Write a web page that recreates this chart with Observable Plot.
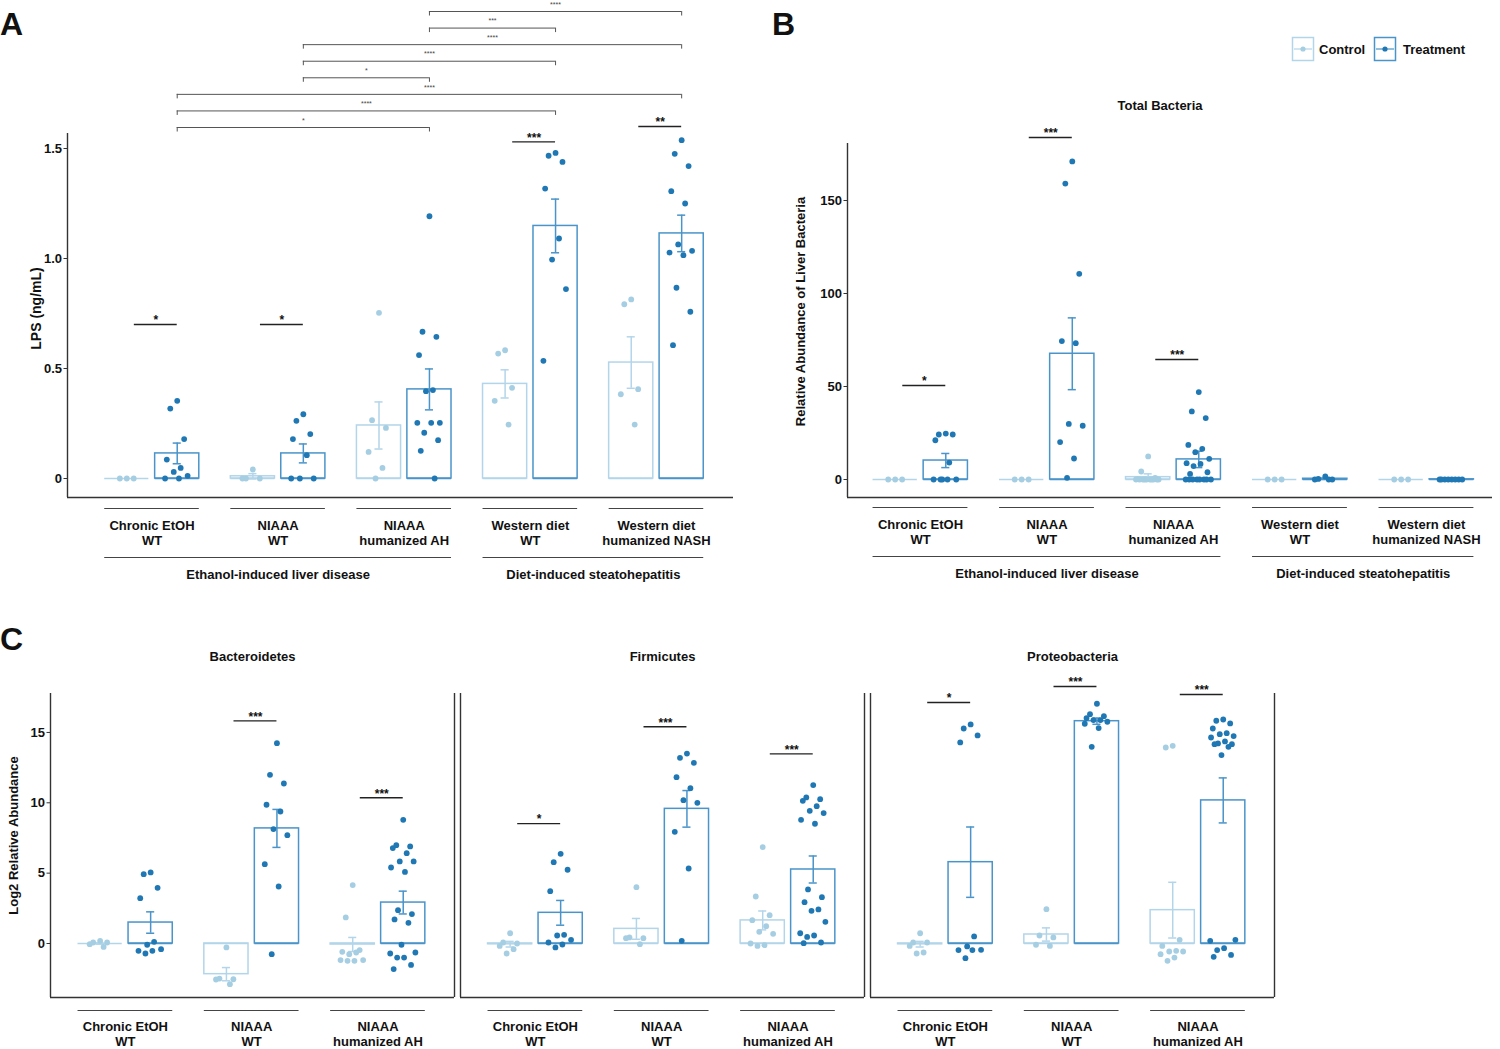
<!DOCTYPE html>
<html>
<head>
<meta charset="utf-8">
<script src="https://cdn.jsdelivr.net/npm/d3@7"></script>
<script src="https://cdn.jsdelivr.net/npm/@observablehq/plot@0.6"></script>
<style>
  html, body { margin: 0; padding: 0; background: #fff; }
  #root { position: relative; width: 1500px; height: 1049px; overflow: hidden; background: #fff;
          font-family: "Liberation Sans", Arial, Helvetica, sans-serif; color: #111; }
  .panel { position: absolute; }
  .panel svg { overflow: visible; }
  .letter { position: absolute; font-size: 32px; font-weight: bold; line-height: 32px; }
</style>
</head>
<body>
<div id="root">
  <div id="panelA" class="panel" style="left:0;top:0"></div>
  <div id="panelB" class="panel" style="left:760px;top:0"></div>
  <div id="panelC" class="panel" style="left:0;top:600px"></div>
  <div class="letter" style="left:0px;top:8px">A</div>
  <div class="letter" style="left:772px;top:8px">B</div>
  <div class="letter" style="left:0px;top:623px">C</div>
  <svg id="legend" style="position:absolute;left:1288px;top:34px" width="200" height="30"
       font-family="Liberation Sans, Arial, sans-serif">
    <g>
      <rect x="4.5" y="3.5" width="21" height="23" fill="none" stroke="#b3d5ea" stroke-width="1.5"></rect>
      <line x1="6" x2="24" y1="15" y2="15" stroke="#b3d5ea" stroke-width="1.2"></line>
      <circle cx="15" cy="15" r="2.6" fill="#a6cee3"></circle>
      <text x="31" y="19.5" font-size="13" font-weight="bold" fill="#111">Control</text>
    </g>
    <g transform="translate(82,0)">
      <rect x="4.5" y="3.5" width="21" height="23" fill="none" stroke="#4a94c9" stroke-width="1.5"></rect>
      <line x1="6" x2="24" y1="15" y2="15" stroke="#4a94c9" stroke-width="1.2"></line>
      <circle cx="15" cy="15" r="2.6" fill="#1f78b4"></circle>
      <text x="33" y="19.5" font-size="13" font-weight="bold" fill="#111">Treatment</text>
    </g>
  </svg>
</div>
<script>
// ======================= DATA =======================
const conditions = ["Control", "Treatment"];
const groupsAB = ["Chronic EtOH\nWT", "NIAAA\nWT", "NIAAA\nhumanized AH", "Western diet\nWT", "Western diet\nhumanized NASH"];
const categoryNames = ["Ethanol-induced liver disease", "Diet-induced steatohepatitis"];
const categoryFrom = [0, 3];
const categoryTo = [2, 4];

// ---- Panel A: LPS (ng/mL) ----
const lpsTitle = "LPS (ng/mL)";
const lpsTicks = [0, 0.5, 1.0, 1.5];
const lpsControl = [
  [0, 0, 0],
  [0.041, 0, 0, 0],
  [0.753, 0.265, 0.230, 0.121, 0.048, 0],
  [0.583, 0.568, 0.412, 0.353, 0.245],
  [0.814, 0.792, 0.406, 0.383, 0.245]
];
const lpsTreatment = [
  [0.353, 0.318, 0.179, 0.086, 0.048, 0.030, 0.012, 0, 0],
  [0.292, 0.262, 0.202, 0.179, 0.106, 0, 0, 0],
  [1.192, 0.667, 0.644, 0.561, 0.402, 0.397, 0.253, 0.253, 0.253, 0.208, 0.174, 0.126, 0],
  [1.480, 1.467, 1.439, 1.318, 1.091, 0.995, 0.861, 0.535],
  [1.538, 1.476, 1.420, 1.306, 1.250, 1.064, 1.035, 1.027, 1.015, 0.867, 0.758, 0.606]
];
const lpsControlMean = [0, 0.010, 0.241, 0.430, 0.527];
const lpsControlSE = [0, 0.012, 0.107, 0.064, 0.117];
const lpsTreatmentMean = [0.114, 0.114, 0.405, 1.148, 1.114];
const lpsTreatmentSE = [0.047, 0.043, 0.093, 0.122, 0.083];
const lpsSigGroup = [0, 1, 3, 4];
const lpsSigLabel = ["*", "*", "***", "**"];
const lpsSigLevel = [0.70, 0.70, 1.53, 1.60];
const lpsCompFrom = [0, 0, 0, 1, 1, 1, 2, 2];
const lpsCompTo = [2, 3, 4, 2, 3, 4, 3, 4];
const lpsCompLabel = ["*", "****", "****", "*", "****", "****", "***", "****"];

// ---- Panel B: Total Bacteria ----
const bactTitle = "Total Bacteria";
const bactAxisTitle = "Relative Abundance of Liver Bacteria";
const bactTicks = [0, 50, 100, 150];
const totalControl = [
  [0, 0, 0],
  [0, 0, 0],
  [12.4, 4.3, 0.8, 0.3, 0, 0, 0, 0, 0, 0, 0, 0, 0, 0],
  [0, 0, 0],
  [0, 0, 0]
];
const totalTreatment = [
  [24.7, 24.2, 24.2, 21.1, 9.1, 0, 0, 0, 0, 0],
  [171.0, 159.1, 110.6, 74.4, 73.3, 29.9, 28.9, 20.1, 11.3, 0.9],
  [47.0, 36.6, 33.0, 18.6, 16.5, 14.7, 11.1, 8.8, 8.4, 7.2, 3.9, 3.0, 0, 0, 0, 0, 0, 0, 0, 0],
  [1.6, 0.3, 0, 0, 0],
  [0, 0, 0, 0, 0, 0, 0, 0]
];
const totalControlMean = [0, 0, 1.25, 0, 0];
const totalControlSE = [0, 0, 1.8, 0, 0];
const totalTreatmentMean = [10.2, 67.6, 10.8, 0.4, 0.1];
const totalTreatmentSE = [3.8, 19.3, 4.4, 0.3, 0];
const totalSigGroup = [0, 1, 2];
const totalSigLabel = ["*", "***", "***"];
const totalSigLevel = [50.5, 183.9, 64.5];

// ---- Panel C: phyla, Log2 relative abundance ----
const phyla = ["Bacteroidetes", "Firmicutes", "Proteobacteria"];
const groupsC = ["Chronic EtOH\nWT", "NIAAA\nWT", "NIAAA\nhumanized AH"];
const phylaAxisTitle = "Log2 Relative Abundance";
const phylaTicks = [0, 5, 10, 15];

const bacteroControl = [
  [0.19, 0.07, 0.07, -0.05, -0.24],
  [-0.28, -2.49, -2.54, -2.56, -2.89],
  [4.15, 1.85, -0.47, -0.59, -0.64, -0.76, -1.18, -1.18, -1.23, -1.23]
];
const bacteroTreatment = [
  [5.05, 4.93, 3.96, 3.22, 0.12, -0.09, -0.40, -0.52, -0.52, -0.71],
  [14.24, 11.99, 11.37, 9.86, 9.38, 8.13, 7.70, 5.64, 4.05, -0.76],
  [8.79, 6.99, 6.90, 6.78, 6.42, 5.83, 5.83, 5.40, 5.09, 2.37, 2.09, 1.71, 1.47, -0.09, -0.64, -0.71, -1.0, -1.0, -1.52, -1.82]
];
const bacteroControlMean = [0, -2.18, -0.07];
const bacteroControlSE = [0.05, 0.47, 0.5];
const bacteroTreatmentMean = [1.49, 8.18, 2.91];
const bacteroTreatmentSE = [0.76, 1.35, 0.81];
const bacteroSigGroup = [1, 2];
const bacteroSigLabel = ["***", "***"];
const bacteroSigLevel = [15.82, 10.36];

const firmiControl = [
  [0.73, 0.07, 0, -0.17, -0.40, -0.71],
  [4.0, 0.43, 0.38, 0.38, -0.05],
  [6.85, 3.34, 2.01, 1.66, 1.23, 0.83, 0.69, 0, -0.12, -0.17]
];
const firmiTreatment = [
  [6.37, 5.78, 5.24, 3.72, 0.62, 0.57, 0.26, 0.07, -0.07, -0.28],
  [13.5, 13.2, 12.84, 11.82, 11.04, 10.19, 10.0, 7.94, 5.33, 0.19],
  [11.26, 10.38, 10.26, 10.14, 9.76, 9.43, 9.27, 8.79, 8.51, 3.84, 3.29, 2.94, 2.42, 2.32, 1.54, 0.73, 0.57, 0.47, 0.07, 0.02]
];
const firmiControlMean = [-0.05, 1.04, 1.64];
const firmiControlSE = [0.2, 0.74, 0.67];
const firmiTreatmentMean = [2.18, 9.57, 5.26];
const firmiTreatmentSE = [0.88, 1.3, 0.96];
const firmiSigGroup = [0, 1, 2];
const firmiSigLabel = ["*", "***", "***"];
const firmiSigLevel = [8.52, 15.4, 13.48];

const proteoControl = [
  [0.73, 0.07, 0.07, -0.17, -0.64, -0.71],
  [2.44, 0.57, 0.43, -0.09, -0.17],
  [14.05, 13.93, 0.26, -0.17, -0.52, -0.57, -0.57, -0.76, -1.0, -1.23]
];
const proteoTreatment = [
  [15.57, 15.28, 14.79, 14.29, 0.5, -0.21, -0.45, -0.47, -0.47, -1.04],
  [17.04, 16.3, 16.16, 16.02, 15.88, 15.88, 15.76, 15.62, 15.31, 13.98],
  [15.92, 15.83, 15.64, 15.28, 14.95, 14.88, 14.74, 14.64, 14.36, 14.22, 14.17, 14.17, 13.98, 13.39, 0.26, 0.19, -0.33, -0.47, -0.81, -0.95]
];
const proteoControlMean = [-0.05, 0.64, 2.37];
const proteoControlSE = [0.2, 0.47, 1.98];
const proteoTreatmentMean = [5.78, 15.8, 10.17];
const proteoTreatmentSE = [2.5, 0.22, 1.6];
const proteoSigGroup = [0, 1, 2];
const proteoSigLabel = ["*", "***", "***"];
const proteoSigLevel = [17.13, 18.27, 17.7];

// ======================= HELPERS =======================
const OFF = 0.2, HALF = 0.175, CAP = 0.032, UNDER = 0.375, JIT = 0.11;
const dotColor = {Control: "#a6cee3", Treatment: "#1f78b4"};
const barColor = {Control: "#b3d5ea", Treatment: "#4a94c9"};
const FONT = "Liberation Sans, Arial, Helvetica, sans-serif";
const xc = d => d.g + (d.cond === "Control" ? -OFF : OFF);
function vdc(n) { let v = 0, f = 0.5; while (n) { if (n & 1) v += f; n >>= 1; f /= 2; } return v; }
const jitter = k => (vdc(k + 1) - 0.5) * 2 * JIT;

function buildPoints(ctrl, trt, p) {
  const out = [];
  [ctrl, trt].forEach((lists, c) => lists.forEach((vals, g) =>
    vals.forEach((v, k) => out.push({p, g, cond: conditions[c], v, k}))));
  return out;
}
function buildBars(cm, cse, tm, tse, p) {
  const out = [];
  [[cm, cse], [tm, tse]].forEach(([m, s], c) =>
    m.forEach((mean, g) => out.push({p, g, cond: conditions[c], mean, se: s[g]})));
  return out;
}
function buildSig(gs, labels, levels, p) {
  return gs.map((g, i) => ({p, g, label: labels[i], y: levels[i]}));
}
// y domain from pixel layout: value 0 at zeroPx, ppu pixels per unit
function yDomain(zeroPx, ppu, topPx, bottomPx) {
  return [(zeroPx - bottomPx) / ppu, (zeroPx - topPx) / ppu];
}

function dataMarks(points, bars, sig, faceted) {
  const o = faceted ? {fx: "p"} : {};
  const withSe = bars.filter(d => d.se > 0);
  const st = d => barColor[d.cond];
  return [
    Plot.rect(bars, {...o, x1: d => xc(d) - HALF, x2: d => xc(d) + HALF, y1: () => 0, y2: "mean",
      fill: "none", stroke: st, strokeWidth: 1.5}),
    Plot.ruleY(bars, {...o, y: () => 0, x1: d => xc(d) - HALF, x2: d => xc(d) + HALF, stroke: st, strokeWidth: 1.5}),
    Plot.ruleX(withSe, {...o, x: xc, y1: d => d.mean - d.se, y2: d => d.mean + d.se, stroke: st, strokeWidth: 1.5}),
    Plot.ruleY(withSe, {...o, y: d => d.mean + d.se, x1: d => xc(d) - CAP, x2: d => xc(d) + CAP, stroke: st, strokeWidth: 1.5}),
    Plot.ruleY(withSe, {...o, y: d => d.mean - d.se, x1: d => xc(d) - CAP, x2: d => xc(d) + CAP, stroke: st, strokeWidth: 1.5}),
    Plot.dot(points, {...o, x: d => xc(d) + jitter(d.k), y: "v", r: 2.9, fill: d => dotColor[d.cond], stroke: null}),
    Plot.ruleY(sig, {...o, y: "y", x1: d => d.g - 0.14, x2: d => d.g + OFF, stroke: "#222", strokeWidth: 1.4}),
    Plot.text(sig, {...o, x: d => d.g + 0.03, y: "y", text: "label", dy: -4, fontSize: 12, fontWeight: "bold", fill: "#111"})
  ];
}

function labelMarks(groupLabels, yMin, dyLine, dyText) {
  const gs = groupLabels.map((label, g) => ({g, label}));
  return [
    Plot.ruleY(gs, {y: () => yMin, x1: d => d.g - UNDER, x2: d => d.g + UNDER, dy: dyLine, stroke: "#444", strokeWidth: 1.1}),
    Plot.text(gs, {x: "g", text: "label", frameAnchor: "bottom", lineAnchor: "middle", textAnchor: "middle",
      dy: dyText, fontSize: 13, fontWeight: "bold", lineHeight: 1.2, fill: "#111"})
  ];
}

function categoryMarks(yMin, dyLine, dyText) {
  const cs = categoryNames.map((name, i) => ({name, from: categoryFrom[i], to: categoryTo[i]}));
  return [
    Plot.ruleY(cs, {y: () => yMin, x1: d => d.from - UNDER, x2: d => d.to + UNDER, dy: dyLine, stroke: "#444", strokeWidth: 1.1}),
    Plot.text(cs, {x: d => (d.from + d.to) / 2, text: "name", frameAnchor: "bottom", lineAnchor: "middle",
      textAnchor: "middle", dy: dyText, fontSize: 13, fontWeight: "bold", fill: "#111"})
  ];
}

function axisMarks(xMin, yMin, yTop, ticks, fmt) {
  return [
    Plot.ruleX([xMin], {x: d => d, y1: () => yMin, y2: () => yTop, stroke: "#333", strokeWidth: 1.4}),
    Plot.ruleY([yMin], {y: d => d, stroke: "#333", strokeWidth: 1.4}),
    Plot.axisY({ticks, tickFormat: fmt, tickSize: 3.5, tickPadding: 2, fontSize: 13, fontWeight: "bold",
      label: null, stroke: "#333", fill: "#111"})
  ];
}

const plotStyle = {fontFamily: FONT, fontWeight: "bold", color: "#111", overflow: "visible", background: "transparent"};

// ======================= PANEL A =======================
{
  const ppu = 220, zero = 478;
  const [yMin, yMax] = yDomain(zero, ppu, 0, 497);
  const yTop = (zero - 133) / ppu;
  const xMin = -0.670, xMax = 4.611;
  const points = buildPoints(lpsControl, lpsTreatment);
  const bars = buildBars(lpsControlMean, lpsControlSE, lpsTreatmentMean, lpsTreatmentSE);
  const sig = buildSig(lpsSigGroup, lpsSigLabel, lpsSigLevel);
  const base = (zero - 127) / ppu, step = 16.57 / ppu, tick = 4.5 / ppu;
  const comps = lpsCompFrom.map((f, i) => ({from: f, to: lpsCompTo[i], label: lpsCompLabel[i], y: base + i * step}));
  const ends = comps.flatMap(d => [{x: d.from, y: d.y}, {x: d.to, y: d.y}]);
  const chart = Plot.plot({
    width: 750, height: 600,
    marginLeft: 67, marginRight: 17, marginTop: 0, marginBottom: 103,
    x: {domain: [xMin, xMax], axis: null},
    y: {domain: [yMin, yMax]},
    color: {type: "identity"},
    style: plotStyle,
    marks: [
      ...axisMarks(xMin, yMin, yTop, lpsTicks, d => d === 0 ? "0" : d.toFixed(1)),
      Plot.text([lpsTitle], {frameAnchor: "left", y: () => (yMin + yTop) / 2, text: d => d, rotate: -90,
        textAnchor: "middle", dx: -31, dy: -7, fontSize: 14, fontWeight: "bold", fill: "#111"}),
      ...dataMarks(points, bars, sig, false),
      Plot.ruleY(comps, {y: "y", x1: d => d.from + OFF, x2: d => d.to + OFF, stroke: "#555", strokeWidth: 1}),
      Plot.ruleX(ends, {x: d => d.x + OFF, y1: "y", y2: d => d.y - tick, stroke: "#555", strokeWidth: 1}),
      Plot.text(comps, {x: d => (d.from + d.to) / 2 + OFF, y: "y", text: "label", dy: -7, fontSize: 7,
        fontWeight: "normal", fill: "#444"}),
      ...labelMarks(groupsAB, yMin, 11, 35),
      ...categoryMarks(yMin, 60, 77)
    ]
  });
  document.getElementById("panelA").append(chart);
}

// ======================= PANEL B =======================
{
  const ppu = 1.86, zero = 479;
  const [yMin, yMax] = yDomain(zero, ppu, 60, 497);
  const yTop = (zero - 143) / ppu;
  const xMin = -0.577, xMax = 4.522;
  const points = buildPoints(totalControl, totalTreatment);
  const bars = buildBars(totalControlMean, totalControlSE, totalTreatmentMean, totalTreatmentSE);
  const sig = buildSig(totalSigGroup, totalSigLabel, totalSigLevel);
  const chart = Plot.plot({
    width: 740, height: 600,
    marginLeft: 87, marginRight: 8, marginTop: 60, marginBottom: 103,
    x: {domain: [xMin, xMax], axis: null},
    y: {domain: [yMin, yMax]},
    color: {type: "identity"},
    style: plotStyle,
    marks: [
      ...axisMarks(xMin, yMin, yTop, bactTicks, d => String(d)),
      Plot.text([bactAxisTitle], {frameAnchor: "left", y: () => (yMin + yTop) / 2, text: d => d, rotate: -90,
        textAnchor: "middle", dx: -47, dy: -9, fontSize: 13, fontWeight: "bold", fill: "#111"}),
      Plot.text([bactTitle], {frameAnchor: "top", text: d => d, lineAnchor: "middle", dy: 45, dx: -10,
        fontSize: 13, fontWeight: "bold", fill: "#111"}),
      ...dataMarks(points, bars, sig, false),
      ...labelMarks(groupsAB, yMin, 10, 34),
      ...categoryMarks(yMin, 59, 76)
    ]
  });
  document.getElementById("panelB").append(chart);
}

// ======================= PANEL C =======================
{
  const ppu = 14.07, zero = 343;            // within the SVG placed at top 600
  const [yMin, yMax] = yDomain(zero, ppu, 60, 397);
  const yTop = (zero - 93) / ppu;
  const xMin = -0.593, xMax = 2.606;
  const sets = [
    [bacteroControl, bacteroTreatment, bacteroControlMean, bacteroControlSE, bacteroTreatmentMean, bacteroTreatmentSE, bacteroSigGroup, bacteroSigLabel, bacteroSigLevel],
    [firmiControl, firmiTreatment, firmiControlMean, firmiControlSE, firmiTreatmentMean, firmiTreatmentSE, firmiSigGroup, firmiSigLabel, firmiSigLevel],
    [proteoControl, proteoTreatment, proteoControlMean, proteoControlSE, proteoTreatmentMean, proteoTreatmentSE, proteoSigGroup, proteoSigLabel, proteoSigLevel]
  ];
  const points = [], bars = [], sig = [];
  sets.forEach((s, i) => {
    const p = phyla[i];
    points.push(...buildPoints(s[0], s[1], p));
    bars.push(...buildBars(s[2], s[3], s[4], s[5], p));
    sig.push(...buildSig(s[6], s[7], s[8], p));
  });
  const chart = Plot.plot({
    width: 1300, height: 449,
    marginLeft: 49, marginRight: 25, marginTop: 60, marginBottom: 52,
    fx: {domain: phyla, paddingInner: 0.0148, paddingOuter: 0, axis: null},
    x: {domain: [xMin, xMax], axis: null},
    y: {domain: [yMin, yMax]},
    color: {type: "identity"},
    style: plotStyle,
    marks: [
      ...axisMarks(xMin, yMin, yTop, phylaTicks, d => String(d)),
      Plot.ruleX([xMax], {x: d => d, y1: () => yMin, y2: () => yTop, stroke: "#333", strokeWidth: 1.4}),
      Plot.text([{p: phyla[0], t: phylaAxisTitle}], {fx: "p", frameAnchor: "left", y: () => (yMin + yTop) / 2,
        text: "t", rotate: -90, textAnchor: "middle", dx: -37, dy: -10, fontSize: 13, fontWeight: "bold", fill: "#111"}),
      Plot.text(phyla, {fx: d => d, text: d => d, frameAnchor: "top", lineAnchor: "middle", dy: -4,
        fontSize: 13, fontWeight: "bold", fill: "#111"}),
      ...dataMarks(points, bars, sig, true),
      ...labelMarks(groupsC, yMin, 13, 36)
    ]
  });
  document.getElementById("panelC").append(chart);
}
</script>
</body>
</html>
